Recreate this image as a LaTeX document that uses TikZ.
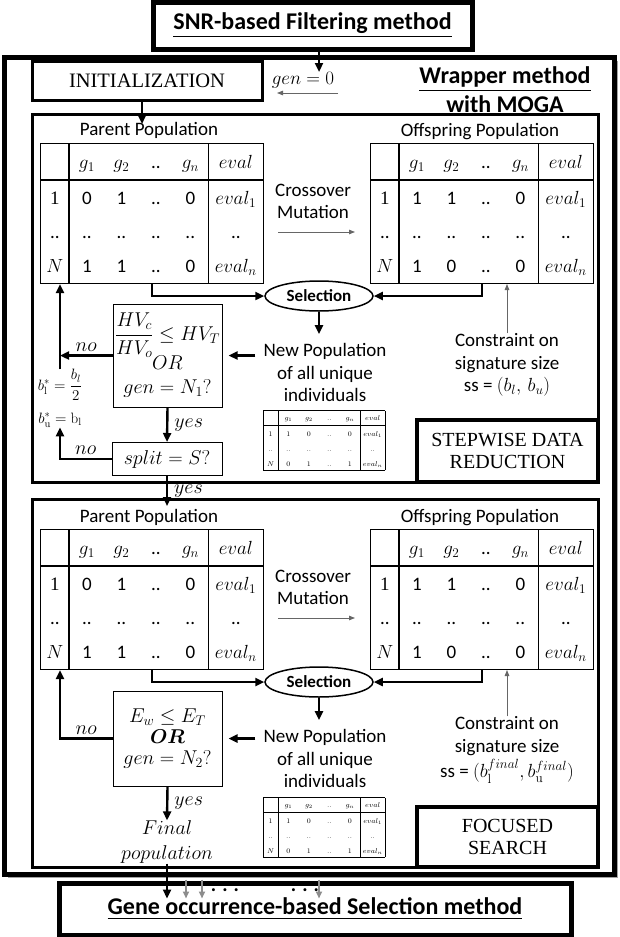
\RequirePackage{fix-cm}
\documentclass[tikz,border=0pt]{standalone}
\usepackage{amsmath}
\usepackage{amssymb}
\usepackage{array}
\usepackage{fontspec}
\newfontfamily\calib{Carlito}
\newfontfamily\camb{Liberation Serif}
\usetikzlibrary{arrows.meta,positioning,calc,shapes.geometric,shadows}

\newcolumntype{C}[1]{>{\centering\arraybackslash}p{#1}}

% population table, the two bit rows are the arguments
\newcommand{\poptab}[2]{%
  {\setlength{\tabcolsep}{0pt}\setlength{\arrayrulewidth}{1.2pt}%
  \begin{tabular}{|C{27pt}|C{34.5pt}C{34.5pt}C{34.5pt}C{34.5pt}|C{54pt}|}
    \hline
    \rule[-11pt]{0pt}{35pt} & $g_1$ & $g_2$ & .. & $g_n$ & $eval$\\ \hline
    \rule[-10pt]{0pt}{34pt}{\camb 1} & #1 & $eval_1$\\
    \rule[-10pt]{0pt}{34pt}.. & .. & .. & .. & .. & ..\\
    \rule[-10pt]{0pt}{34pt}$N$ & #2 & $eval_n$\\ \hline
  \end{tabular}}}

% small table of the new population
\newcommand{\smalltab}{%
  {\setlength{\tabcolsep}{0pt}\setlength{\arrayrulewidth}{0.5pt}%
  \fontsize{7}{8}\selectfont
  \begin{tabular}{|C{14pt}|C{20.5pt}C{20.5pt}C{20.5pt}C{20.5pt}|C{24pt}|}
    \hline
    \rule[-4pt]{0pt}{14pt} & $g_1$ & $g_2$ & .. & $g_n$ & $eval$\\ \hline
    \rule[-4pt]{0pt}{15pt}1 & 1 & 0 & .. & 0 & $eval_1$\\
    \rule[-4pt]{0pt}{15pt}.. & .. & .. & .. & .. & ..\\
    \rule[-4pt]{0pt}{15pt}$N$ & 0 & 1 & .. & 1 & $eval_n$\\ \hline
  \end{tabular}}}

\begin{document}
\begin{tikzpicture}[x=1pt, y=-1pt,
    bigbox/.style={draw, line width=5pt, inner sep=0pt},
    secbox/.style={draw, line width=3pt, inner sep=0pt},
    headbox/.style={draw, line width=5pt, inner sep=0pt, font=\calib\bfseries\fontsize{24}{28}\selectfont},
    tagbox/.style={draw, line width=3.5pt, inner sep=0pt, align=center, font=\camb\fontsize{20}{22}\selectfont},
    askbox/.style={draw, line width=1pt, inner sep=0pt, align=center, font=\fontsize{20}{24}\selectfont},
    txt/.style={inner sep=0pt, align=center, font=\calib\fontsize{19}{22.5}\selectfont},
    tabnode/.style={inner sep=0pt, anchor=north west, font=\calib\fontsize{19}{22.5}\selectfont},
    mtxt/.style={inner sep=0pt, align=center, font=\fontsize{20}{25}\selectfont},
    btxt/.style={inner sep=0pt, font=\fontsize{15}{18}\selectfont},
    selnode/.style={ellipse, draw, line width=1.5pt, inner sep=0pt, minimum width=108pt, minimum height=30pt, font=\calib\bfseries\fontsize{17}{20}\selectfont},
    arr/.style={-{Triangle[length=9pt,width=8pt]}, line width=2.4pt},
    thinarr/.style={-{Triangle[length=6pt,width=4.5pt]}, line width=0.9pt, draw=black!60},
    grayarr/.style={-{Triangle[length=7pt,width=6pt]}, line width=1.8pt, draw=black!45}
]
\useasboundingbox (0,0) rectangle (619,937);

% frames
\node[bigbox, minimum width=610pt, minimum height=817pt, fill=white,
      drop shadow={shadow xshift=4pt, shadow yshift=-4pt, fill=black!45, opacity=.8}] (wrap) at (309,465.5) {};
\node[headbox, minimum width=319pt, minimum height=47pt] (snr) at (312.5,25.5) {\underline{SNR-based Filtering method}};
\node[headbox, minimum width=512pt, minimum height=52pt] (gene) at (315,909) {\underline{Gene occurrence-based Selection method}};
\node[secbox, minimum width=230pt, minimum height=39pt, font=\camb\fontsize{20.5}{22}\selectfont] (init) at (147,80.5) {INITIALIZATION};
\node[mtxt, font=\fontsize{19}{22}\selectfont] (gen0) at (303,80) {$gen = 0$};
\node[inner sep=0pt, align=center, font=\calib\bfseries\fontsize{24}{29}\selectfont] (moga) at (505,92) {\underline{Wrapper method}\\\underline{with MOGA}};
\node[secbox, minimum width=566pt, minimum height=368pt] (sec1) at (315,298) {};
\node[secbox, minimum width=566pt, minimum height=368pt] (sec2) at (315,683) {};
\node[tagbox, minimum width=181pt, minimum height=62pt] (tag1) at (507.5,451) {STEPWISE DATA\\REDUCTION};
\node[tagbox, minimum width=181pt, minimum height=60pt] (tag2) at (507.5,837) {FOCUSED\\SEARCH};

% stepwise data reduction
\node[txt] (pp1) at (149,130) {Parent Population};
\node[txt] (op1) at (480,132) {Offspring Population};
\node[tabnode] (ptab1) at (40,143) {\poptab{0 & 1 & .. & 0}{1 & 1 & .. & 0}};
\node[tabnode] (otab1) at (370,143) {\poptab{1 & 1 & .. & 0}{1 & 0 & .. & 0}};
\node[txt] (cm1) at (313,201.5) {Crossover\\Mutation};
\node[selnode] (sel1) at (319,296) {Selection};
\node[txt] (np1) at (325,372.5) {New Population\\of all unique\\individuals};
\node[inner sep=0pt, anchor=north west] (st1) at (263,410) {\smalltab};
\node[txt] (con1) at (507,365) {Constraint on\\signature size\\ss = $(b_l,\, b_u)$};
\node[askbox, minimum width=109pt, minimum height=103pt] (dec1) at (167.5,355.5) {$\dfrac{HV_c}{HV_o}\leq HV_T$\\[-2pt]$OR$\\$gen = N_1?$};
\node[askbox, minimum width=110pt, minimum height=33pt] (split) at (167,459) {$split = S?$};
\node[btxt] (bl1) at (60,385) {$b_{\mathrm{l}}^{*}=\dfrac{b_l}{2}$};
\node[btxt] (bu1) at (60,420) {$b_{\mathrm{u}}^{*}=\mathrm{b}_{\mathrm{l}}$};

\coordinate (snrend) at (319,72);
\draw[arr] (snr.south -| snrend) -- (snrend);
\coordinate (g0a) at (338,93);
\coordinate (g0b) at (277,93);
\draw[thinarr] (g0a) -- (g0b);
\coordinate (initend) at (142,124);
\draw[arr] (init.south -| initend) -- (initend);
\draw[arr] (ptab1.south) |- (sel1.west);
\draw[arr] (otab1.south) |- (sel1.east);
\coordinate (cx1a) at (278,232);
\coordinate (cx1b) at (355,232);
\draw[thinarr] (cx1a) -- (cx1b);
\draw[arr] (sel1.south) -- ([yshift=9pt]sel1.south |- np1.north);
\draw[arr, shorten <=8pt, shorten >=6pt] (dec1.east -| np1.west) -- (dec1.east);
\draw[arr] (dec1.west) -- (dec1.west -| bl1.north) node[midway, above=3pt, mtxt] (no1) {$no$};
\draw[arr] (bl1.north) -- (bl1.north |- ptab1.south);
\draw[arr] (dec1.south) -- (split.north) node[midway, right=6pt, mtxt] (yes1) {$yes$};
\draw[arr] (split.west) -| (bu1.south) node[pos=.25, above=3pt, mtxt] (no2) {$no$};
\coordinate (splitend) at (167,506);
\draw[arr] (split.south) -- (splitend) node[midway, right=6pt, mtxt] (yes2) {$yes$};
\draw[thinarr] (con1.north) -- (con1.north |- otab1.south);

% focused search
\node[txt] (pp2) at (149,517) {Parent Population};
\node[txt] (op2) at (480,518) {Offspring Population};
\node[tabnode] (ptab2) at (40,529) {\poptab{0 & 1 & .. & 0}{1 & 1 & .. & 0}};
\node[tabnode] (otab2) at (370,529) {\poptab{1 & 1 & .. & 0}{1 & 0 & .. & 0}};
\node[txt] (cm2) at (313,587.5) {Crossover\\Mutation};
\node[selnode] (sel2) at (319,682) {Selection};
\node[txt] (np2) at (325,758.5) {New Population\\of all unique\\individuals};
\node[inner sep=0pt, anchor=north west] (st2) at (263,797) {\smalltab};
\node[txt] (con2) at (507,750) {Constraint on\\signature size\\[3pt]ss = $(b_{\mathrm{l}}^{final},b_{\mathrm{u}}^{final})$};
\node[askbox, minimum width=109pt, minimum height=95pt] (dec2) at (167.5,738.5) {$E_w\leq E_T$\\[-3pt]$\boldsymbol{OR}$\\[-3pt]$gen = N_2?$};
\node[mtxt] (fin) at (167,842) {$Final$\\$population$};

\coordinate (cx2a) at (278,618);
\coordinate (cx2b) at (355,618);
\draw[thinarr] (cx2a) -- (cx2b);
\draw[arr] (ptab2.south) |- (sel2.west);
\draw[arr] (otab2.south) |- (sel2.east);
\draw[arr] (sel2.south) -- ([yshift=9pt]sel2.south |- np2.north);
\draw[arr, shorten <=8pt, shorten >=6pt] (dec2.east -| np2.west) -- (dec2.east);
\coordinate (nb2) at (ptab2.south -| bl1.north);
\draw[arr] (dec2.west) -| (nb2) node[pos=.25, above=3pt, mtxt] (no3) {$no$};
\draw[arr] (dec2.south) -- (fin.north) node[midway, right=6pt, mtxt] (yes3) {$yes$};
\draw[thinarr] (con2.north) -- (con2.north |- otab2.south);

% into the gene occurrence step
\draw[arr] (fin.south) -- ([yshift=-18pt]gene.north -| fin.south);
\foreach \gx in {186,202,319}
  \draw[grayarr] ([yshift=-3pt]wrap.south -| \gx,0) -- ([yshift=-18pt]gene.north -| \gx,0);
\node[inner sep=0pt, font=\calib\bfseries\fontsize{20}{24}\selectfont] (dots1) at (225,890) {. . .};
\node[inner sep=0pt, font=\calib\bfseries\fontsize{20}{24}\selectfont] (dots2) at (305,890) {. . .};
\end{tikzpicture}
\end{document}
